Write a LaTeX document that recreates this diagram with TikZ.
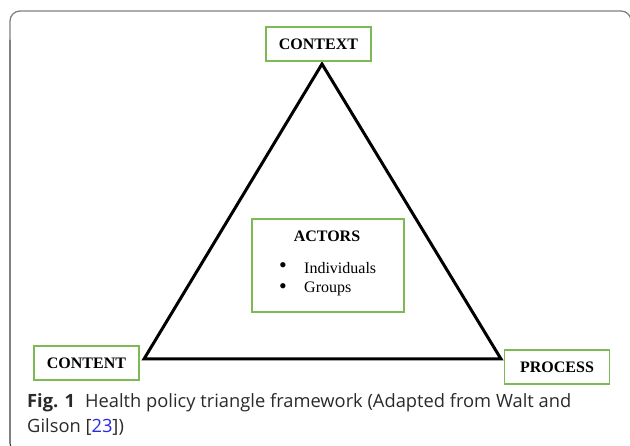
\documentclass[tikz,border=0pt]{standalone}
\usepackage{fontspec}
\setmainfont{Liberation Serif}
\newfontfamily\capfont{Open Sans}
\begin{document}
\begin{tikzpicture}[x=1pt,y=-1pt,
  framebox/.style={draw=boxgreen,line width=1.2pt,fill=white,inner sep=0pt,
    minimum width=105pt,minimum height=34pt,
    font=\fontsize{16}{19}\selectfont\bfseries},
  itemtext/.style={anchor=west,inner sep=0pt,font=\fontsize{16}{19}\selectfont},
  bullet/.style={inner sep=0pt,font=\fontsize{22}{22}\selectfont},
  captionline/.style={anchor=base west,inner sep=0pt,text=captext,
    font=\capfont\fontsize{18.3}{25}\selectfont},
  edge/.style={line width=3pt,line join=miter}]
\definecolor{boxgreen}{HTML}{7DB955}
\definecolor{framegray}{HTML}{808080}
\definecolor{framedark}{HTML}{3C3C3C}
\definecolor{captext}{HTML}{2A2A2A}
\definecolor{citeblue}{HTML}{2B2BE0}
\useasboundingbox (0,0) rectangle (630,446);
\begin{scope}
\clip (0,0) rectangle (630,446);
% outer frame: grey top edge, darker left edge
\draw[framegray,line width=1.3pt,rounded corners=10pt] (10,40) -- (10,11) -- (631,11) -- (631,60);
\draw[framedark,line width=1.1pt,rounded corners=10pt] (10,40) -- (10,453) -- (60,453);
\end{scope}
% triangle
\coordinate (apex) at (322,64);
\coordinate (bl) at (144,359);
\coordinate (br) at (501,359);
\draw[edge] (apex) -- (bl) -- (br) -- cycle;
% labelled corners
\node[framebox] (context) at (318.5,44) {CONTEXT};
\node[framebox] (content) at (86.5,363) {CONTENT};
\node[framebox] (process) at (557,367) {PROCESS};
% actors box
\node[draw=boxgreen,line width=1.2pt,fill=white,minimum width=152pt,minimum height=93pt,inner sep=0pt] (actors) at (328,265.5) {};
\node[inner sep=0pt,font=\fontsize{16}{19}\selectfont\bfseries] (actorsT) at (327,236) {ACTORS};
\node[bullet] (b1) at (283,268) {•};
\node[itemtext] (i1) at (304,268) {Individuals};
\node[bullet] (b2) at (283,289) {•};
\node[itemtext] (i2) at (304,289) {Groups};
% caption
\node[captionline] (cap1) at (27,408)
  {\textbf{Fig. 1}\hspace{10pt}Health policy triangle framework (Adapted from Walt and};
\node[captionline] (cap2) at (27,433) {Gilson [{\color{citeblue}23}])};
\end{tikzpicture}
\end{document}
